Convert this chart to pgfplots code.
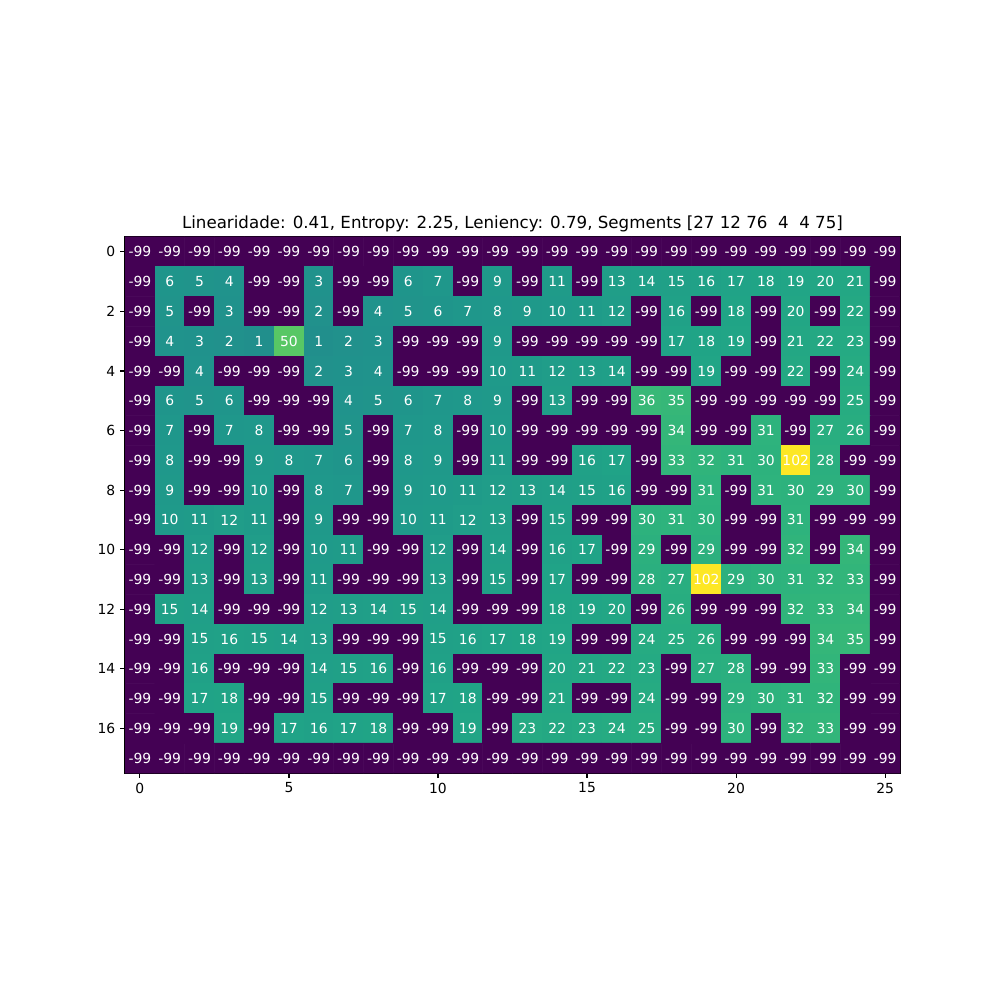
\documentclass[border=0pt]{standalone}
\usepackage{pgfplots}
\usepackage{pgfplotstable}
\pgfplotsset{compat=1.18}
\usepackage{fontspec}
\setmainfont{DejaVu Sans}
\pgfplotstableread[row sep=\\]{
c\\
-99\\-99\\-99\\-99\\-99\\-99\\-99\\-99\\-99\\-99\\-99\\-99\\-99\\-99\\-99\\-99\\-99\\-99\\-99\\-99\\-99\\-99\\-99\\-99\\-99\\-99\\
-99\\6\\5\\4\\-99\\-99\\3\\-99\\-99\\6\\7\\-99\\9\\-99\\11\\-99\\13\\14\\15\\16\\17\\18\\19\\20\\21\\-99\\
-99\\5\\-99\\3\\-99\\-99\\2\\-99\\4\\5\\6\\7\\8\\9\\10\\11\\12\\-99\\16\\-99\\18\\-99\\20\\-99\\22\\-99\\
-99\\4\\3\\2\\1\\50\\1\\2\\3\\-99\\-99\\-99\\9\\-99\\-99\\-99\\-99\\-99\\17\\18\\19\\-99\\21\\22\\23\\-99\\
-99\\-99\\4\\-99\\-99\\-99\\2\\3\\4\\-99\\-99\\-99\\10\\11\\12\\13\\14\\-99\\-99\\19\\-99\\-99\\22\\-99\\24\\-99\\
-99\\6\\5\\6\\-99\\-99\\-99\\4\\5\\6\\7\\8\\9\\-99\\13\\-99\\-99\\36\\35\\-99\\-99\\-99\\-99\\-99\\25\\-99\\
-99\\7\\-99\\7\\8\\-99\\-99\\5\\-99\\7\\8\\-99\\10\\-99\\-99\\-99\\-99\\-99\\34\\-99\\-99\\31\\-99\\27\\26\\-99\\
-99\\8\\-99\\-99\\9\\8\\7\\6\\-99\\8\\9\\-99\\11\\-99\\-99\\16\\17\\-99\\33\\32\\31\\30\\102\\28\\-99\\-99\\
-99\\9\\-99\\-99\\10\\-99\\8\\7\\-99\\9\\10\\11\\12\\13\\14\\15\\16\\-99\\-99\\31\\-99\\31\\30\\29\\30\\-99\\
-99\\10\\11\\12\\11\\-99\\9\\-99\\-99\\10\\11\\12\\13\\-99\\15\\-99\\-99\\30\\31\\30\\-99\\-99\\31\\-99\\-99\\-99\\
-99\\-99\\12\\-99\\12\\-99\\10\\11\\-99\\-99\\12\\-99\\14\\-99\\16\\17\\-99\\29\\-99\\29\\-99\\-99\\32\\-99\\34\\-99\\
-99\\-99\\13\\-99\\13\\-99\\11\\-99\\-99\\-99\\13\\-99\\15\\-99\\17\\-99\\-99\\28\\27\\102\\29\\30\\31\\32\\33\\-99\\
-99\\15\\14\\-99\\-99\\-99\\12\\13\\14\\15\\14\\-99\\-99\\-99\\18\\19\\20\\-99\\26\\-99\\-99\\-99\\32\\33\\34\\-99\\
-99\\-99\\15\\16\\15\\14\\13\\-99\\-99\\-99\\15\\16\\17\\18\\19\\-99\\-99\\24\\25\\26\\-99\\-99\\-99\\34\\35\\-99\\
-99\\-99\\16\\-99\\-99\\-99\\14\\15\\16\\-99\\16\\-99\\-99\\-99\\20\\21\\22\\23\\-99\\27\\28\\-99\\-99\\33\\-99\\-99\\
-99\\-99\\17\\18\\-99\\-99\\15\\-99\\-99\\-99\\17\\18\\-99\\-99\\21\\-99\\-99\\24\\-99\\-99\\29\\30\\31\\32\\-99\\-99\\
-99\\-99\\-99\\19\\-99\\17\\16\\17\\18\\-99\\-99\\19\\-99\\23\\22\\23\\24\\25\\-99\\-99\\30\\-99\\32\\33\\-99\\-99\\
-99\\-99\\-99\\-99\\-99\\-99\\-99\\-99\\-99\\-99\\-99\\-99\\-99\\-99\\-99\\-99\\-99\\-99\\-99\\-99\\-99\\-99\\-99\\-99\\-99\\-99\\
}\griddata
\begin{document}
\begin{tikzpicture}
\path[use as bounding box] (0,0) rectangle (720pt,720pt);
\begin{axis}[
  at={(90pt,163.44pt)}, anchor=south west,
  scale only axis, width=558pt, height=385.92pt,
  xmin=-0.5, xmax=25.5, ymin=-0.5, ymax=17.5,
  y dir=reverse,
  axis line style={line width=0.8pt},
  xtick={0,5,10,15,20,25}, ytick={0,2,4,6,8,10,12,14,16},
  xtick pos=bottom, ytick pos=left,
  tick align=outside, major tick length=3.5pt,
  tick style={line width=0.8pt, black},
  tick label style={font=\fontsize{10}{12}\selectfont},
  /pgf/number format/assume math mode=true,
  colormap/viridis, point meta min=-99, point meta max=102,
  title={Linearidade: 0.41, Entropy: 2.25, Leniency: 0.79, Segments [27 12 76\ \ 4\ \ 4 75]},
  title style={font=\fontsize{12}{14}\selectfont, at={(0.5,1)}, anchor=base, yshift=0pt, inner sep=0pt},
]
\addplot[matrix plot*, mesh/cols=26, point meta=explicit, shader=flat corner]
  table[x index=0, y index=0, x expr={\coordindex-26*floor((\coordindex+0.5)/26)}, y expr={floor((\coordindex+0.5)/26)}, meta index=0] {\griddata};
\addplot[draw=none, mark=none, point meta=explicit symbolic,
  nodes near coords, nodes near coords align=center,
  every node near coord/.append style={anchor=center, text=white, font=\fontsize{10}{12}\selectfont, inner sep=0pt}]
  table[x index=0, y index=0, x expr={\coordindex-26*floor((\coordindex+0.5)/26)}, y expr={floor((\coordindex+0.5)/26)}, meta index=0] {\griddata};
\end{axis}
\end{tikzpicture}
\end{document}
